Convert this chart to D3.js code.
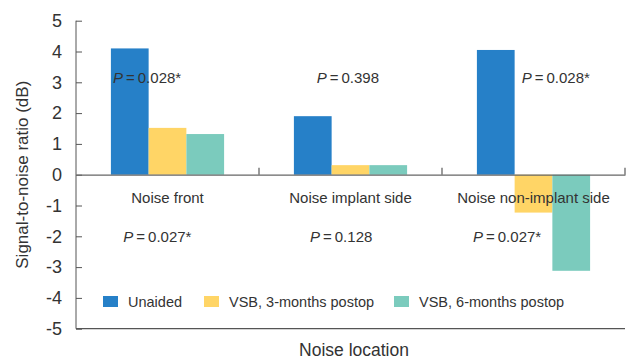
<!DOCTYPE html>
<html>
<head>
<meta charset="utf-8">
<script src="https://cdn.jsdelivr.net/npm/d3@7"></script>
<style>
  body { margin: 0; background: #fff; }
  text { font-family: "Liberation Sans", Arial, sans-serif; fill: #333; }
</style>
</head>
<body>
<svg id="chart" width="627" height="359"></svg>
<script>
const categories = ["Noise front", "Noise implant side", "Noise non-implant side"];
const seriesNames = ["Unaided", "VSB, 3-months postop", "VSB, 6-months postop"];
const unaided = [4.1, 1.9, 4.05];
const vsb3 = [1.52, 0.31, -1.23];
const vsb6 = [1.32, 0.31, -3.12];
const yTicks = [5, 4, 3, 2, 1, 0, -1, -2, -3, -4, -5];
const pTop = ["0.028*", "0.398", "0.028*"];
const pBottom = ["0.027*", "0.128", "0.027*"];

const colors = ["#2680c8", "#ffd566", "#7bcbbd"];
const series = [unaided, vsb3, vsb6];

const svg = d3.select("#chart");
const plotLeft = 76, plotRight = 625, plotTop = 20.7, plotBottom = 328.7;

const x0 = d3.scaleBand().domain(categories).range([plotLeft, plotRight]).padding(0);
const x1 = d3.scaleBand().domain(seriesNames).range([0, x0.bandwidth()])
  .paddingInner(0).paddingOuter(0.925);
const y = d3.scaleLinear().domain([-5, 5]).range([plotBottom, plotTop]);

// bars
const rows = categories.map((c, i) => ({
  cat: c,
  vals: seriesNames.map((s, j) => ({ s: s, v: series[j][i], c: colors[j] }))
}));

const groups = svg.selectAll(".grp")
  .data(rows)
  .enter().append("g")
  .attr("transform", d => "translate(" + x0(d.cat) + ",0)");

groups.selectAll("rect")
  .data(d => d.vals)
  .enter().append("rect")
  .attr("x", d => x1(d.s))
  .attr("width", x1.bandwidth())
  .attr("y", d => y(Math.max(0, d.v)))
  .attr("height", d => Math.abs(y(d.v) - y(0)))
  .attr("fill", d => d.c);

// y axis
const yAxis = svg.append("g")
  .attr("transform", "translate(" + plotLeft + ",0)")
  .call(d3.axisRight(y).tickValues(yTicks).tickSize(6).tickFormat(d => String(d)));
yAxis.select(".domain").attr("stroke", "#555").attr("d", "M0," + plotTop + "V" + plotBottom);
yAxis.selectAll(".tick line").attr("stroke", "#555");
yAxis.selectAll(".tick text")
  .attr("x", -14).attr("text-anchor", "end")
  .style("font-size", "18px").attr("fill", "#333")
  .attr("font-family", "Liberation Sans, Arial, sans-serif");

// zero line with category ticks
const zero = svg.append("g")
  .attr("transform", "translate(0," + y(0) + ")")
  .call(d3.axisTop(x0).tickValues([]).tickSizeOuter(0));
zero.select(".domain").attr("stroke", "#666").attr("stroke-width", 1.3);
zero.selectAll(".sep")
  .data(categories)
  .enter().append("line")
  .attr("x1", d => x0(d) + x0.bandwidth())
  .attr("x2", d => x0(d) + x0.bandwidth())
  .attr("y1", 0).attr("y2", -7)
  .attr("stroke", "#666").attr("stroke-width", 1.3);

// bottom axis line
svg.append("line")
  .attr("x1", plotLeft).attr("x2", plotRight)
  .attr("y1", plotBottom).attr("y2", plotBottom)
  .attr("stroke", "#555").attr("stroke-width", 1.3);

// category labels
svg.selectAll(".cat")
  .data(categories)
  .enter().append("text")
  .attr("x", d => x0(d) + x0.bandwidth() / 2)
  .attr("y", y(0) + 28.5)
  .attr("text-anchor", "middle")
  .style("font-size", "15px")
  .text(d => d);

// P value annotations
function pText(sel) {
  sel.append("tspan").style("font-style", "italic").text("P");
  sel.append("tspan").text(d => "\u2009=\u2009" + d);
}
const topOff = [37, 57.7, 79.7];
const botOff = [47.3, 51, 31];
svg.selectAll(".ptop")
  .data(pTop)
  .enter().append("text")
  .attr("x", (d, i) => x0(categories[i]) + topOff[i])
  .attr("y", 82.5)
  .style("font-size", "15px")
  .call(pText);
svg.selectAll(".pbot")
  .data(pBottom)
  .enter().append("text")
  .attr("x", (d, i) => x0(categories[i]) + botOff[i])
  .attr("y", 241.5)
  .style("font-size", "15px")
  .call(pText);

// legend
const legX = [103, 204, 394];
const leg = svg.selectAll(".leg")
  .data(seriesNames)
  .enter().append("g")
  .attr("transform", (d, i) => "translate(" + legX[i] + ",296)");
leg.append("rect")
  .attr("width", 15).attr("height", 11)
  .attr("fill", (d, i) => colors[i]);
leg.append("text")
  .attr("x", 25).attr("y", 11)
  .style("font-size", "14.5px")
  .text(d => d);

// axis titles
svg.append("text")
  .attr("transform", "translate(28," + y(0) + ") rotate(-90)")
  .attr("text-anchor", "middle")
  .style("font-size", "17px")
  .text("Signal-to-noise ratio (dB)");
svg.append("text")
  .attr("x", 354).attr("y", 356)
  .attr("text-anchor", "middle")
  .style("font-size", "17.5px")
  .text("Noise location");
</script>
</body>
</html>
